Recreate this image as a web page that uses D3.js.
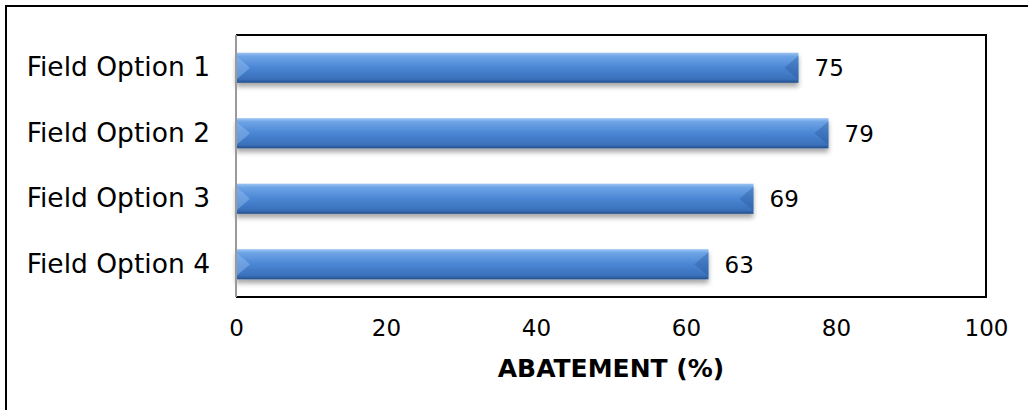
<!DOCTYPE html>
<html>
<head>
<meta charset="utf-8">
<script src="https://cdn.jsdelivr.net/npm/d3@7"></script>
<style>
  body { margin: 0; background: #fff; }
  svg text { font-family: "DejaVu Sans", Verdana, sans-serif; fill: #000; }
</style>
</head>
<body>
<svg id="chart" width="1028" height="410"></svg>
<script>
// Abatement per field option
const categories = ["Field Option 1", "Field Option 2", "Field Option 3", "Field Option 4"];
const abatement = [75, 79, 69, 63];
const xTicks = [0, 20, 40, 60, 80, 100];
const axisTitle = "ABATEMENT (%)";

const svg = d3.select("#chart");
const plot = { left: 236, top: 35, right: 986, bottom: 297 };

// Outer chart frame
svg.append("rect")
  .attr("x", 6).attr("y", 6).attr("width", 1040).attr("height", 420)
  .attr("fill", "#fff").attr("stroke", "#000").attr("stroke-width", 2);

const x = d3.scaleLinear().domain([0, 100]).range([plot.left, plot.right]);
const y = d3.scaleBand().domain(categories).range([plot.top, plot.bottom]).paddingInner(0.54).paddingOuter(0.27);

const defs = svg.append("defs");
const grad = defs.append("linearGradient").attr("id", "barFill")
  .attr("x1", 0).attr("y1", 0).attr("x2", 0).attr("y2", 1);
grad.append("stop").attr("offset", "0%").attr("stop-color", "#9cc4f2");
grad.append("stop").attr("offset", "12%").attr("stop-color", "#6ea4e6");
grad.append("stop").attr("offset", "50%").attr("stop-color", "#4a86d4");
grad.append("stop").attr("offset", "88%").attr("stop-color", "#3a70ba");
grad.append("stop").attr("offset", "100%").attr("stop-color", "#24508c");

const shadow = defs.append("filter").attr("id", "barShadow")
  .attr("x", "-5%").attr("y", "-30%").attr("width", "110%").attr("height", "180%");
shadow.append("feGaussianBlur").attr("in", "SourceAlpha").attr("stdDeviation", 2.5).attr("result", "blur");
shadow.append("feOffset").attr("in", "blur").attr("dy", 4).attr("result", "off");
shadow.append("feComponentTransfer").attr("in", "off").attr("result", "soft")
  .append("feFuncA").attr("type", "linear").attr("slope", 0.35);
const merge = shadow.append("feMerge");
merge.append("feMergeNode").attr("in", "soft");
merge.append("feMergeNode").attr("in", "SourceGraphic");

// Plot area border (top, right, bottom)
svg.append("path")
  .attr("d", `M${plot.left},${plot.top}H${plot.right}V${plot.bottom}H${plot.left}`)
  .attr("fill", "none").attr("stroke", "#000").attr("stroke-width", 2);

// Bars
const bars = svg.append("g").selectAll("g").data(categories).join("g");
bars.append("rect")
  .attr("x", x(0))
  .attr("y", d => y(d))
  .attr("width", (d, i) => x(abatement[i]) - x(0))
  .attr("height", y.bandwidth())
  .attr("fill", "url(#barFill)")
  .attr("filter", "url(#barShadow)");
// bevel highlight at the left end
bars.append("path")
  .attr("d", d => {
    const t = y(d), h = y.bandwidth(), l = x(0);
    return `M${l},${t + 3}L${l + 14},${t + h / 2}L${l},${t + h - 3}Z`;
  })
  .attr("fill", "#8dbaf0").attr("opacity", 0.5);
// bevel shading at the right end
bars.append("path")
  .attr("d", (d, i) => {
    const t = y(d), h = y.bandwidth(), r = x(abatement[i]);
    return `M${r},${t + 3}L${r - 14},${t + h / 2}L${r},${t + h - 3}Z`;
  })
  .attr("fill", "#2a5a9c").attr("opacity", 0.4);

// Value labels
svg.append("g").selectAll("text").data(categories).join("text")
  .attr("x", (d, i) => x(abatement[i]) + 16)
  .attr("y", d => y(d) + y.bandwidth() / 2)
  .attr("dy", "0.36em")
  .attr("font-size", 23)
  .text((d, i) => abatement[i]);

// Category axis
const yAxis = svg.append("g").attr("transform", `translate(${plot.left},0)`)
  .call(d3.axisLeft(y).tickSize(0).tickPadding(26));
yAxis.select(".domain").attr("stroke", "#9a9a9a").attr("stroke-width", 2)
  .attr("d", `M0,${plot.top}V${plot.bottom}`);
yAxis.selectAll("text").attr("font-size", 26.5).attr("fill", "#000");

// Value axis
const xAxis = svg.append("g").attr("transform", `translate(0,${plot.bottom})`)
  .call(d3.axisBottom(x).tickValues(xTicks).tickSize(0).tickPadding(23));
xAxis.select(".domain").remove();
xAxis.selectAll("text").attr("font-size", 23).attr("fill", "#000");

svg.append("text")
  .attr("x", (plot.left + plot.right) / 2)
  .attr("y", 377)
  .attr("text-anchor", "middle")
  .attr("font-size", 25).attr("font-weight", "bold")
  .text(axisTitle);
</script>
</body>
</html>
